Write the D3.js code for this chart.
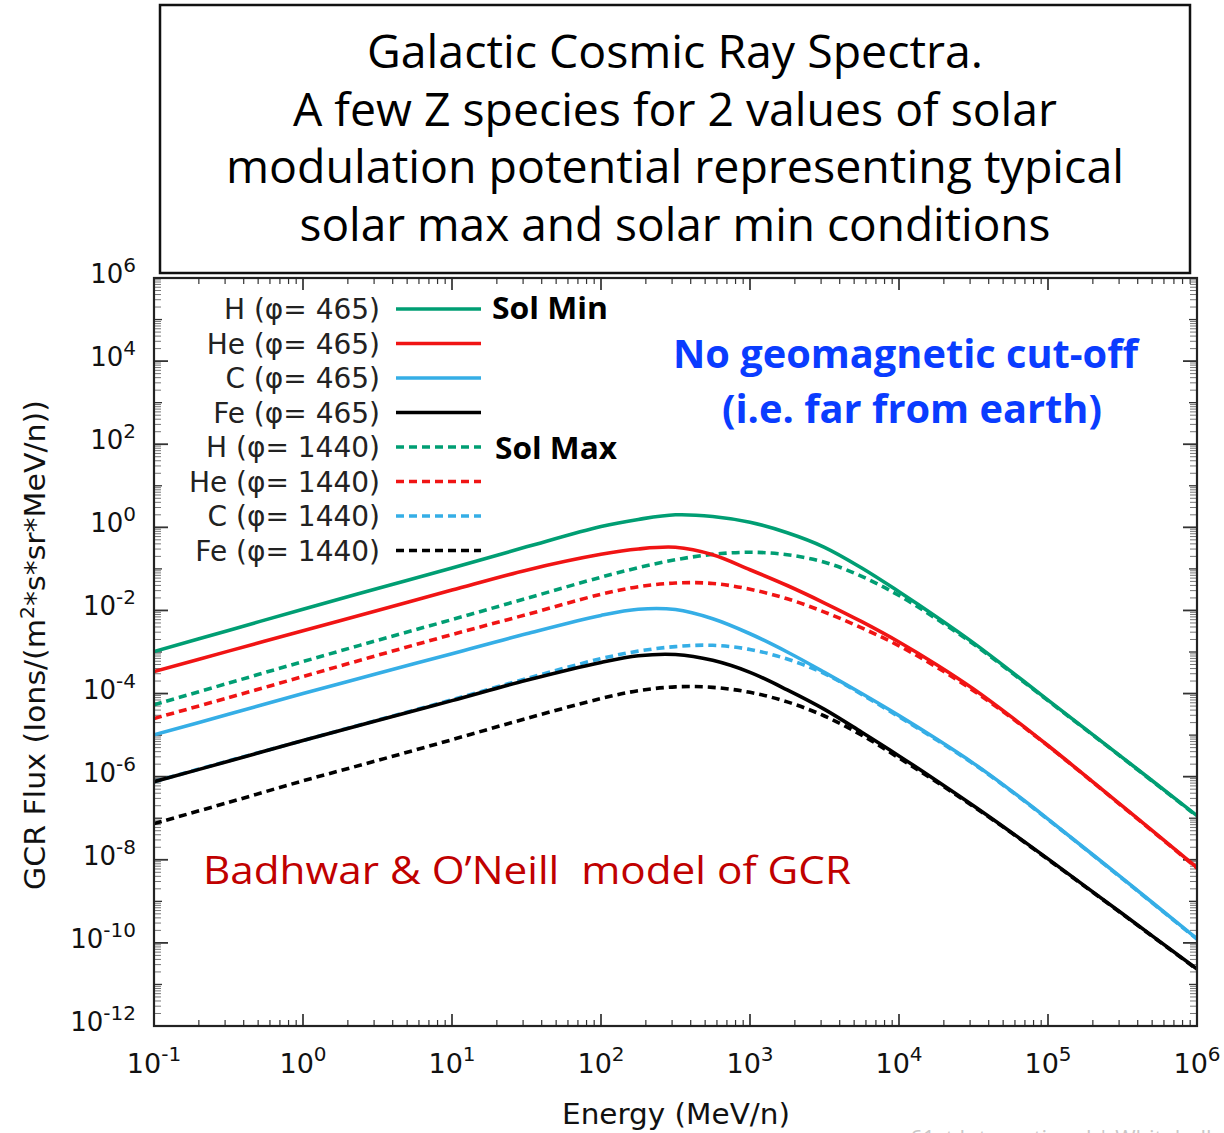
<!DOCTYPE html>
<html><head><meta charset="utf-8">
<script src="https://cdn.jsdelivr.net/npm/d3@7"></script>
<style>html,body{margin:0;padding:0;background:#fff;} svg{display:block;}</style>
</head><body>
<svg id="chart" width="1224" height="1133"></svg>
<script>
// ---- data ----
const energies = [0.1, 0.316, 1, 3.16, 10, 31.6, 100, 178, 316, 562, 1000, 1778, 3162, 5623, 10000, 17783, 31623, 56234, 100000, 316228, 1000000]; // MeV/n
const H_min  = [1.02e-3, 3.31e-3, 1.07e-2, 3.39e-2, 0.105, 0.339, 1.05, 1.55, 2.0, 1.82, 1.32, 0.741, 0.331, 0.105, 2.82e-2, 7.08e-3, 1.66e-3, 3.47e-4, 6.92e-5, 2.88e-6, 1.15e-7];
const He_min = [3.39e-4, 1.05e-3, 3.24e-3, 1.0e-2, 3.09e-2, 9.33e-2, 0.224, 0.302, 0.331, 0.219, 9.55e-2, 3.98e-2, 1.51e-2, 5.37e-3, 1.74e-3, 5.01e-4, 1.29e-4, 2.82e-5, 5.62e-6, 1.95e-7, 6.46e-9];
const C_min  = [1.02e-5, 3.16e-5, 1.0e-4, 3.02e-4, 9.12e-4, 2.75e-3, 7.59e-3, 1.07e-2, 1.05e-2, 6.31e-3, 2.75e-3, 1.0e-3, 3.24e-4, 1.0e-4, 2.95e-5, 8.13e-6, 2.09e-6, 4.68e-7, 9.55e-8, 3.55e-9, 1.26e-10];
const Fe_min = [7.59e-7, 2.34e-6, 7.41e-6, 2.24e-5, 6.76e-5, 2.09e-4, 5.62e-4, 8.13e-4, 8.71e-4, 6.31e-4, 3.24e-4, 1.23e-4, 4.17e-5, 1.17e-5, 3.16e-6, 8.13e-7, 2.0e-7, 4.68e-8, 1.05e-8, 5.01e-10, 2.34e-11];
const H_max  = [5.37e-5, 1.78e-4, 5.89e-4, 1.91e-3, 6.03e-3, 1.95e-2, 6.31e-2, 0.107, 0.166, 0.224, 0.251, 0.219, 0.145, 6.61e-2, 2.29e-2, 6.31e-3, 1.55e-3, 3.31e-4, 6.76e-5, 2.82e-6, 1.12e-7];
const He_max = [2.51e-5, 7.94e-5, 2.57e-4, 8.32e-4, 2.63e-3, 7.94e-3, 2.45e-2, 3.72e-2, 4.57e-2, 4.47e-2, 3.24e-2, 1.91e-2, 9.12e-3, 3.80e-3, 1.41e-3, 4.37e-4, 1.17e-4, 2.69e-5, 5.50e-6, 1.91e-7, 6.31e-9];
const C_max  = [7.59e-7, 2.40e-6, 7.41e-6, 2.29e-5, 7.08e-5, 2.29e-4, 6.92e-4, 1.05e-3, 1.35e-3, 1.45e-3, 1.15e-3, 6.76e-4, 3.02e-4, 9.55e-5, 2.75e-5, 7.76e-6, 2.04e-6, 4.57e-7, 9.33e-8, 3.47e-9, 1.23e-10];
const Fe_max = [7.41e-8, 2.40e-7, 7.94e-7, 2.45e-6, 7.76e-6, 2.51e-5, 7.59e-5, 1.17e-4, 1.45e-4, 1.41e-4, 1.07e-4, 6.31e-5, 2.88e-5, 1.0e-5, 2.82e-6, 7.59e-7, 1.91e-7, 4.57e-8, 1.02e-8, 4.90e-10, 2.29e-11];
const seriesLabels = ["H (φ= 465)", "He (φ= 465)", "C (φ= 465)", "Fe (φ= 465)", "H (φ= 1440)", "He (φ= 1440)", "C (φ= 1440)", "Fe (φ= 1440)"];
const xTickExponents = [-1, 0, 1, 2, 3, 4, 5, 6];
const yTickExponents = [6, 4, 2, 0, -2, -4, -6, -8, -10, -12];
const titleLines = ["Galactic Cosmic Ray Spectra.", "A few Z species for 2 values of solar", "modulation potential representing typical", "solar max and solar min conditions"];

const seriesValues = [H_min, He_min, C_min, Fe_min, H_max, He_max, C_max, Fe_max];
const colors = ["#009e73", "#f01414", "#35aee6", "#000000"];

const svg = d3.select("#chart");
const L = 154, R = 1197, T = 278, B = 1026;
const x = d3.scaleLog().domain([0.1, 1e6]).range([L, R]);
const y = d3.scaleLog().domain([1e-12, 1e6]).range([B, T]);

svg.append("defs").append("clipPath").attr("id", "clip")
  .append("rect").attr("x", L).attr("y", T).attr("width", R - L).attr("height", B - T);

// ---- ticks ----
const tickG = svg.append("g");
const DJ = "'DejaVu Sans', sans-serif";
for (let k = -1; k <= 6; k++) {
  const v = Math.pow(10, k);
  const px = x(v);
  [[B, -1], [T, 1]].forEach(([base, dir]) => {
    tickG.append("line").attr("x1", px).attr("x2", px).attr("y1", base).attr("y2", base + dir * 12)
      .attr("stroke", "#222").attr("stroke-width", 1.6);
  });
  if (k < 6) for (let m = 2; m <= 9; m++) {
    const pm = x(m * v);
    [[B, -1], [T, 1]].forEach(([base, dir]) => {
      tickG.append("line").attr("x1", pm).attr("x2", pm).attr("y1", base).attr("y2", base + dir * 6)
        .attr("stroke", "#333").attr("stroke-width", 1.2);
    });
  }
}
for (let k = -12; k <= 6; k++) {
  const v = Math.pow(10, k);
  const py = y(v);
  const major = (k % 2 === 0);
  [[L, 1], [R, -1]].forEach(([base, dir]) => {
    tickG.append("line").attr("y1", py).attr("y2", py).attr("x1", base).attr("x2", base + dir * (major ? 14 : 8))
      .attr("stroke", "#333").attr("stroke-width", major ? 1.8 : 1.3);
  });
  if (k < 6) for (let m = 2; m <= 9; m++) {
    const pm = y(m * v);
    [[L, 1], [R, -1]].forEach(([base, dir]) => {
      tickG.append("line").attr("y1", pm).attr("y2", pm).attr("x1", base).attr("x2", base + dir * 7)
        .attr("stroke", "#777").attr("stroke-width", 1);
    });
  }
}

// tick labels
xTickExponents.forEach(e => {
  const t = svg.append("text").attr("x", x(Math.pow(10, e))).attr("y", 1073)
    .attr("text-anchor", "middle").attr("font-family", DJ).attr("font-size", 27).attr("fill", "#111");
  t.append("tspan").text("10");
  t.append("tspan").attr("dy", -12).attr("font-size", 20).text(String(e));
});
yTickExponents.forEach(e => {
  const py = y(Math.pow(10, e));
  const t = svg.append("text").attr("x", 136).attr("y", py + 5)
    .attr("text-anchor", "end").attr("font-family", DJ).attr("font-size", 26).attr("fill", "#111");
  t.append("tspan").text("10");
  t.append("tspan").attr("dy", -11).attr("font-size", 20).text(String(e));
});

// axis titles
svg.append("text").attr("x", 676).attr("y", 1124).attr("text-anchor", "middle")
  .attr("font-family", DJ).attr("font-size", 28).attr("fill", "#111")
  .attr("textLength", 228).attr("lengthAdjust", "spacingAndGlyphs").text("Energy (MeV/n)");
const yt = svg.append("text").attr("transform", "translate(45,645) rotate(-90)").attr("text-anchor", "middle")
  .attr("font-family", DJ).attr("font-size", 28).attr("fill", "#111")
  .attr("textLength", 490).attr("lengthAdjust", "spacingAndGlyphs");
yt.append("tspan").text("GCR Flux (Ions/(m");
yt.append("tspan").attr("dy", -11).attr("font-size", 19).text("2");
yt.append("tspan").attr("dy", 11).text("*s*sr*MeV/n))");

// ---- curves ----
const line = d3.line().x((d, i) => x(energies[i])).y(d => y(d)).curve(d3.curveCatmullRom.alpha(0.5));
const curveG = svg.append("g").attr("clip-path", "url(#clip)");
[4, 5, 6, 7, 0, 1, 2, 3].forEach(i => {
  curveG.append("path").attr("d", line(seriesValues[i])).attr("fill", "none")
    .attr("stroke", colors[i % 4]).attr("stroke-width", 3.6)
    .attr("stroke-dasharray", i >= 4 ? "8,5" : null);
});

// frame
svg.append("rect").attr("x", L).attr("y", T).attr("width", R - L).attr("height", B - T)
  .attr("fill", "none").attr("stroke", "#222").attr("stroke-width", 2.2);

// ---- legend ----
seriesLabels.forEach((lab, i) => {
  const cy = 309 + i * 34.5;
  svg.append("text").attr("x", 380).attr("y", cy + 10).attr("text-anchor", "end")
    .attr("font-family", DJ).attr("font-size", 28).attr("fill", "#222").text(lab);
  svg.append("line").attr("x1", 396).attr("x2", 481).attr("y1", cy).attr("y2", cy)
    .attr("stroke", colors[i % 4]).attr("stroke-width", 3.6)
    .attr("stroke-dasharray", i >= 4 ? "8,5" : null);
});
const OS = "'Open Sans', 'Noto Sans', sans-serif";
svg.append("text").attr("x", 492).attr("y", 319).attr("font-family", OS).attr("font-weight", "bold")
  .attr("font-size", 30).attr("textLength", 116).attr("lengthAdjust", "spacingAndGlyphs").attr("fill", "#000").text("Sol Min");
svg.append("text").attr("x", 495).attr("y", 459).attr("font-family", OS).attr("font-weight", "bold")
  .attr("font-size", 30).attr("textLength", 122).attr("lengthAdjust", "spacingAndGlyphs").attr("fill", "#000").text("Sol Max");

// annotations
svg.append("text").attr("x", 673).attr("y", 368).attr("font-family", OS).attr("font-weight", "bold")
  .attr("font-size", 39).attr("textLength", 465).attr("lengthAdjust", "spacingAndGlyphs").attr("fill", "#0a3cff").text("No geomagnetic cut-off");
svg.append("text").attr("x", 722).attr("y", 423).attr("font-family", OS).attr("font-weight", "bold")
  .attr("font-size", 39).attr("textLength", 380).attr("lengthAdjust", "spacingAndGlyphs").attr("fill", "#0a3cff").text("(i.e. far from earth)");
svg.append("text").attr("x", 203).attr("y", 884).attr("font-family", OS).style("white-space", "pre")
  .attr("font-size", 39).attr("textLength", 648).attr("lengthAdjust", "spacingAndGlyphs").attr("fill", "#c00000").text("Badhwar & O’Neill  model of GCR");

// ---- title box ----
svg.append("rect").attr("x", 160).attr("y", 5).attr("width", 1030).attr("height", 268)
  .attr("fill", "#fff").attr("stroke", "#111").attr("stroke-width", 2.5);
const titleWidths = [616, 764, 898, 751];
titleLines.forEach((s, i) => {
  svg.append("text").attr("x", 675).attr("y", 68 + i * 57.7).attr("text-anchor", "middle")
    .attr("font-family", OS).attr("font-size", 46).attr("fill", "#000")
    .attr("textLength", titleWidths[i]).attr("lengthAdjust", "spacingAndGlyphs").text(s);
});

// faint footer fragment at bottom right (cut by the page edge, as in the source)
svg.append("text").attr("x", 910).attr("y", 1146).attr("font-family", OS).attr("font-size", 22)
  .attr("fill", "#c8c8c8").text("61st International | Whitehall");
</script>
</body></html>
